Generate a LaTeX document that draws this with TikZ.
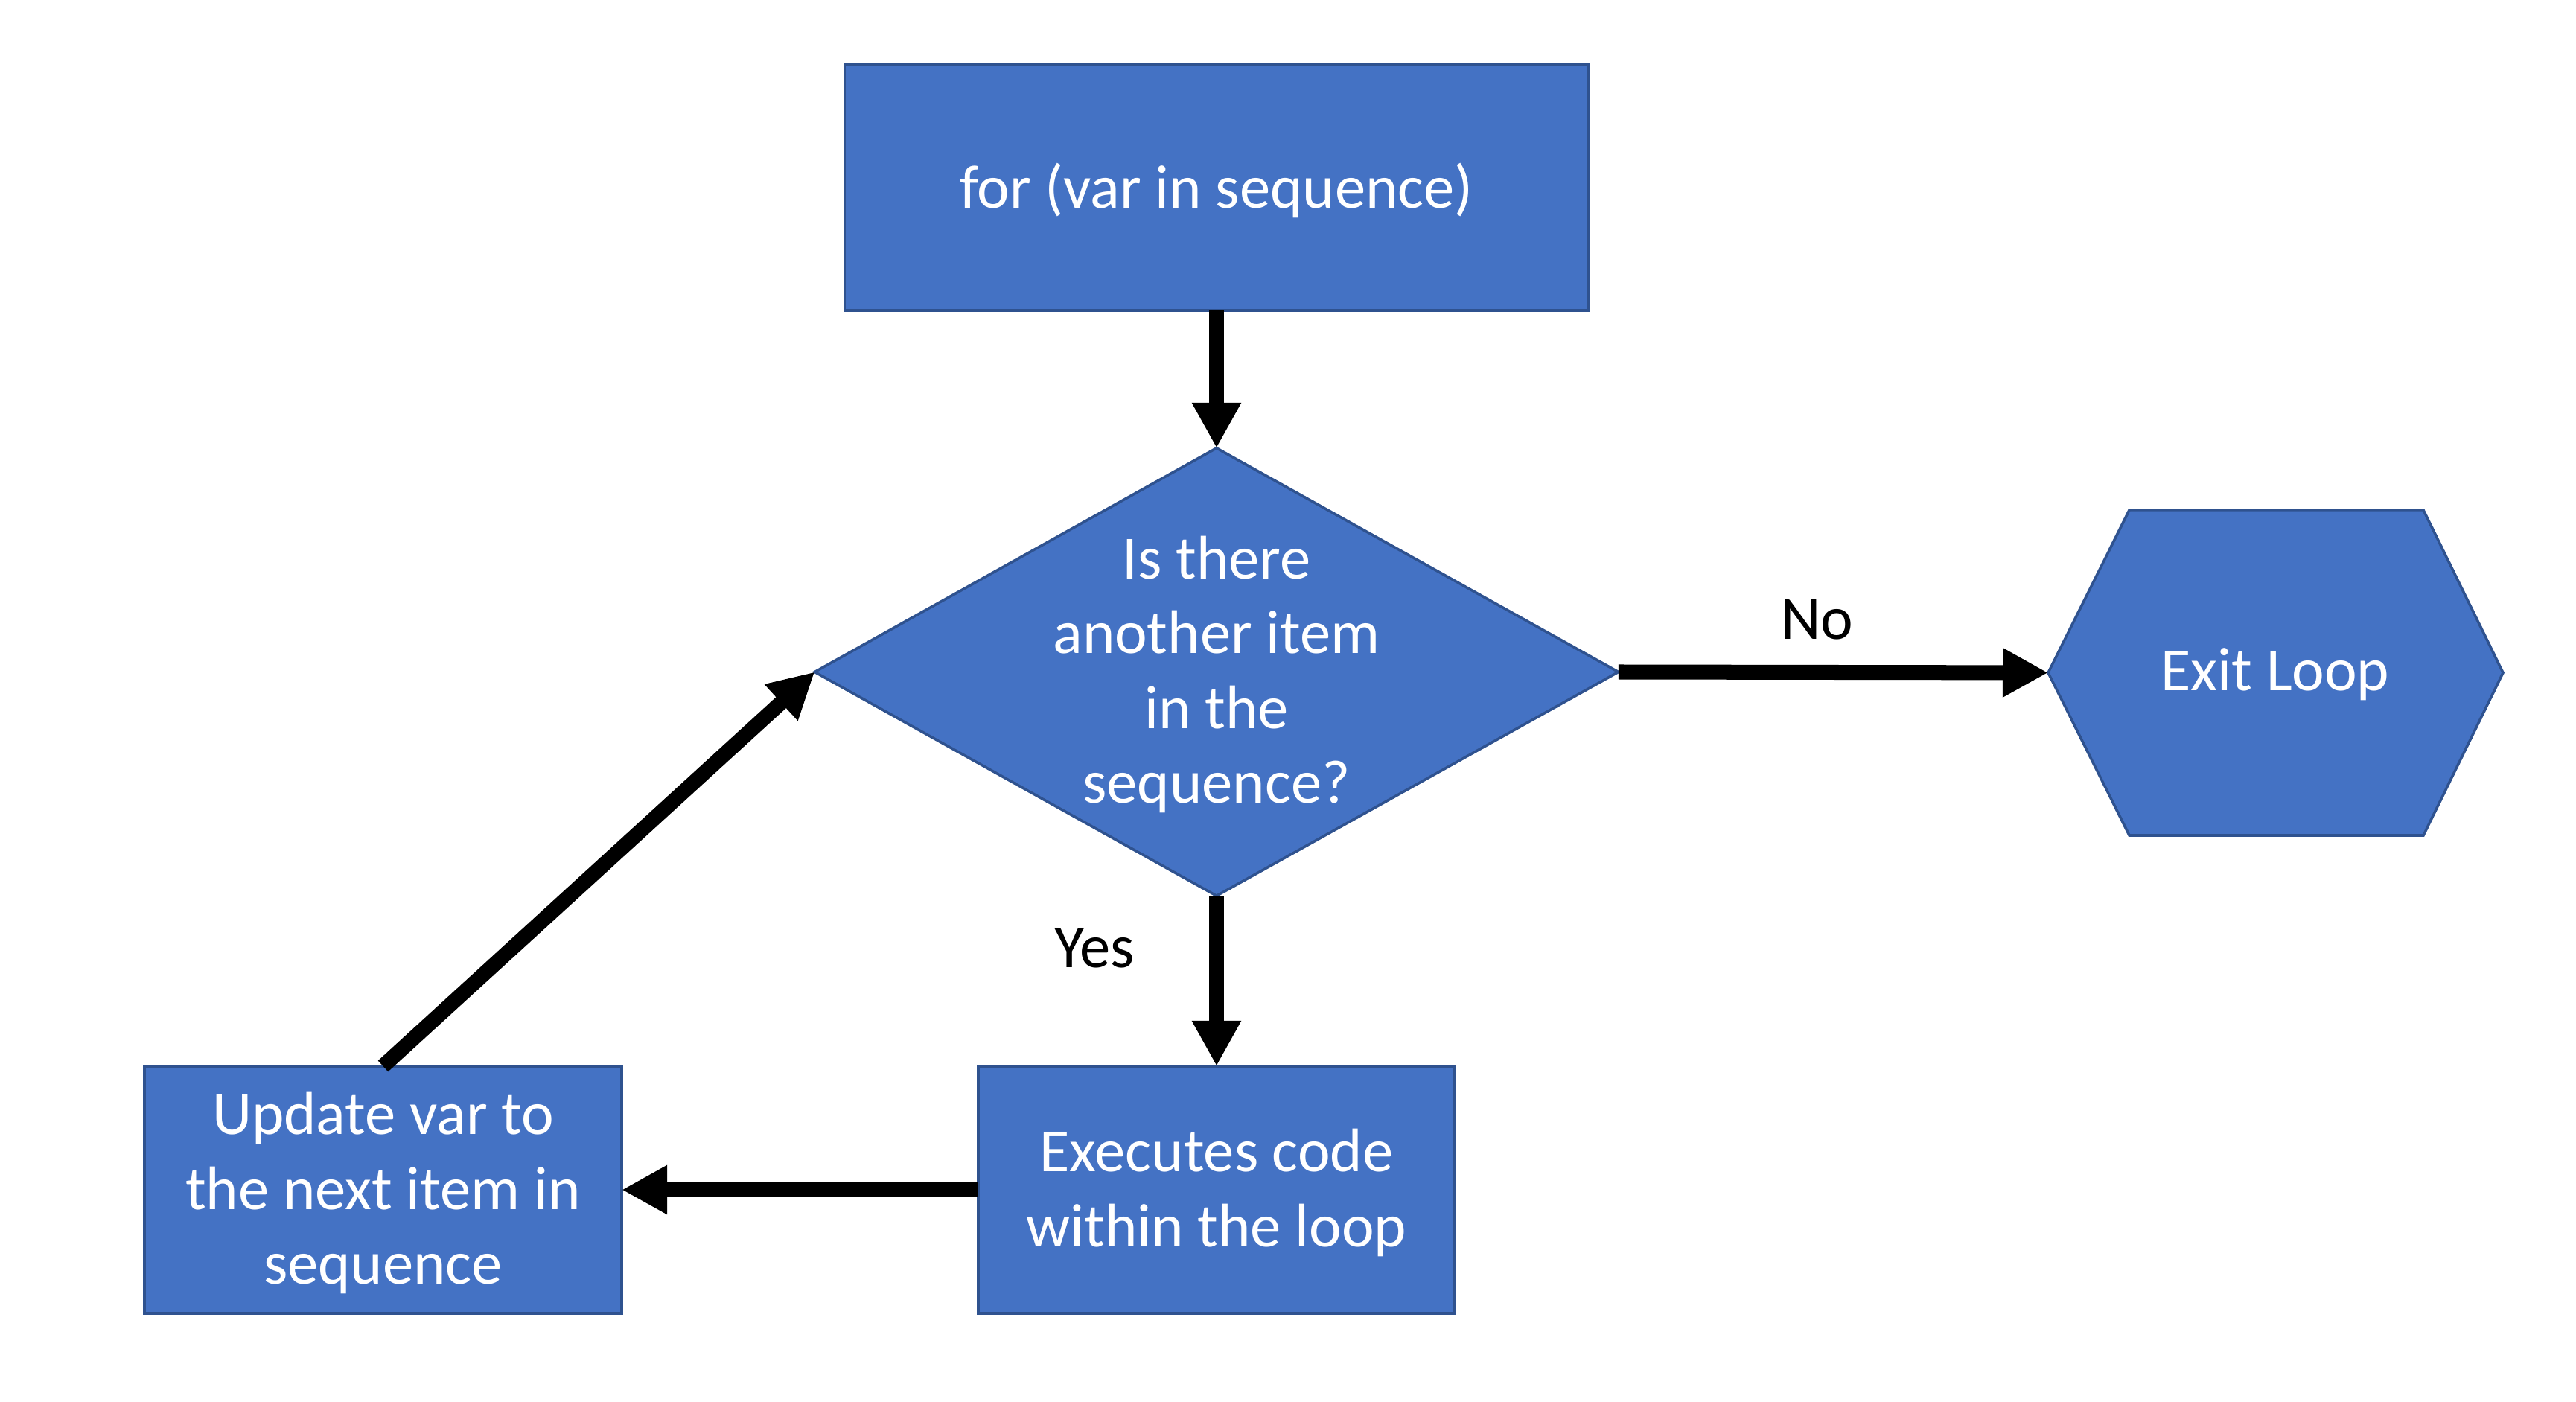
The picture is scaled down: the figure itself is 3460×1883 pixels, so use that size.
\documentclass[tikz,border=0pt]{standalone}
\usepackage{fontspec}
\setmainfont{Carlito}
\usetikzlibrary{arrows.meta,shapes.geometric}
\definecolor{boxfill}{HTML}{4472C4}
\definecolor{boxline}{HTML}{2F528F}
\tikzset{
  shapebox/.style={draw=boxline, fill=boxfill, line width=1pt, inner sep=0pt, outer sep=0pt},
  rectbox/.style={shapebox, rectangle},
  boxtext/.style={text=white, align=center, font=\fontsize{23.5}{28.5}\selectfont, inner sep=0pt},
  labeltext/.style={text=black, font=\fontsize{23.5}{28.5}\selectfont, inner sep=0pt},
  flow/.style={line width=0.2cm, -{Triangle[length=0.61cm,width=0.62cm]}, black}
}
\begin{document}
\begin{tikzpicture}[x=0.01cm, y=-0.01cm]
\useasboundingbox[fill=white] (0,0) rectangle (3460,1883);
% top box
\node[rectbox, minimum width=9.98cm, minimum height=3.31cm] (top) at (1634,251.5) {};
\node[boxtext] (toptxt) at (1634,256) {for (var in sequence)};
% diamond
\node[shapebox, diamond, minimum width=10.79cm, minimum height=6.01cm] (dia) at (1634,902.5) {};
\node[boxtext] (diatxt) at (1634,906) {Is there\\another item\\in the\\sequence?};
% hexagon
\coordinate (hexL) at (2751,903.5);
\coordinate (hexR) at (3362,903.5);
\path[shapebox] (hexL) -- (2860,685) -- (3255,685) -- (hexR) -- (3255,1122) -- (2860,1122) -- cycle;
\node[boxtext] (hextxt) at (3056,906) {Exit Loop};
% execute box
\node[rectbox, minimum width=6.4cm, minimum height=3.32cm] (exe) at (1634,1598) {};
\node[boxtext] (exetxt) at (1634,1602) {Executes code\\within the loop};
% update box
\node[rectbox, minimum width=6.41cm, minimum height=3.32cm] (upd) at (514.5,1598) {};
\node[boxtext] (updtxt) at (514.5,1602) {Update var to\\the next item in\\sequence};
% connectors
\draw[flow] (top.south) -- (dia.north);
\draw[flow] (dia.east) -- (hexL);
\draw[flow] (dia.south) -- (exe.north);
\draw[flow] (exe.west) -- (upd.east);
\draw[flow] (upd.north) -- (dia.west);
% labels
\node[labeltext] (nolbl) at (2441,832) {No};
\node[labeltext] (yeslbl) at (1470,1273) {Yes};
\end{tikzpicture}
\end{document}
